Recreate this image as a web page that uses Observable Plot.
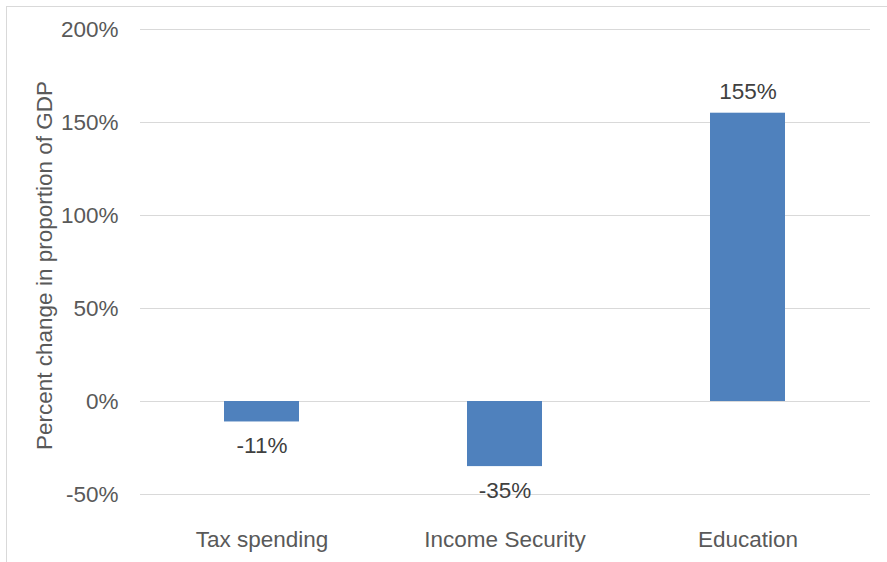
<!DOCTYPE html>
<html>
<head>
<meta charset="utf-8">
<script src="https://cdn.jsdelivr.net/npm/d3@7"></script>
<script src="https://cdn.jsdelivr.net/npm/@observablehq/plot@0.6"></script>
<style>
  html, body { margin: 0; padding: 0; background: #fff; }
  #wrap { position: relative; width: 887px; height: 562px; overflow: hidden; }
  #border { position: absolute; left: 6px; top: 6px; width: 900px; height: 600px; border: 1px solid #d9d9d9; box-sizing: border-box; }
  #chart { position: absolute; left: 0; top: 0; }
</style>
</head>
<body>
<div id="wrap"><div id="border"></div><div id="chart"></div></div>
<script>
const categories = ["Tax spending", "Income Security", "Education"];
const values = [-11, -35, 155];
const yTicks = [-50, 0, 50, 100, 150, 200];
const yLabel = "Percent change in proportion of GDP";

const data = categories.map((c, i) => ({category: c, value: values[i]}));
const pos = data.filter(d => d.value >= 0);
const neg = data.filter(d => d.value < 0);
const fmt = v => `${v}%`;
const FS = 22.5;

const chart = Plot.plot({
  width: 887,
  height: 562,
  marginLeft: 140,
  marginRight: 17,
  marginTop: 29,
  marginBottom: 68,
  style: {fontFamily: "Liberation Sans, Arial, sans-serif", fontSize: FS + "px", color: "#595959", background: "transparent"},
  x: {domain: categories, paddingInner: 0.69, paddingOuter: 0.345, label: null},
  y: {domain: [-50, 200], label: null},
  marks: [
    Plot.gridY(yTicks, {stroke: "#d9d9d9", strokeOpacity: 1, strokeWidth: 1}),
    Plot.barY(data, {x: "category", y: "value", fill: "#4f81bd"}),
    Plot.text(pos, {x: "category", y: "value", text: d => fmt(d.value), lineAnchor: "bottom", dy: -14, fill: "#404040", fontSize: FS}),
    Plot.text(neg, {x: "category", y: "value", text: d => fmt(d.value), lineAnchor: "top", dy: 15, fill: "#404040", fontSize: FS}),
    Plot.axisY(yTicks, {tickFormat: fmt, tickSize: 0, tickPadding: 22, fontSize: FS, fill: "#595959", label: null}),
    Plot.axisX({tickSize: 0, tickPadding: 37, fontSize: FS, fill: "#595959", label: null}),
    Plot.text([yLabel], {frameAnchor: "left", textAnchor: "middle", rotate: -90, dx: -96, dy: 3.5, fontSize: FS, fill: "#595959", text: d => d})
  ]
});
document.getElementById("chart").appendChild(chart);
</script>
</body>
</html>
